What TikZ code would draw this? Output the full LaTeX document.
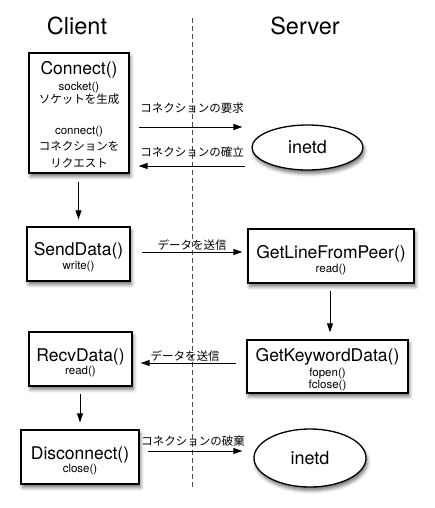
\documentclass[tikz,border=0pt]{standalone}
\usepackage{fontspec}
\setmainfont{TeX Gyre Heros}
\newfontfamily\jp{Noto Sans CJK JP}
\usetikzlibrary{shapes.geometric,arrows.meta,shadows.blur}
\begin{document}
\begin{tikzpicture}[x=1pt,y=-1pt,
  boxshadow/.style={blur shadow={shadow xshift=1.5pt,shadow yshift=-3.5pt,shadow blur radius=3.5pt,shadow opacity=55}},
  box/.style={draw,line width=1.3pt,fill=white,inner sep=0pt,boxshadow},
  oval/.style={ellipse,draw,line width=1.3pt,fill=white,inner sep=0pt,boxshadow},
  title/.style={anchor=base,inner sep=0pt,font=\fontsize{23.5}{26}\selectfont},
  big/.style={anchor=base,inner sep=0pt,font=\fontsize{17.5}{20}\selectfont},
  small/.style={anchor=base,inner sep=0pt,font=\fontsize{11.5}{13}\selectfont},
  jps/.style={anchor=base,inner sep=0pt,font=\jp\fontsize{11.5}{13}\selectfont},
  arr/.style={line width=1pt,-{Triangle[length=9pt,width=6pt]}},
  divider/.style={black!70,line width=1pt,dash pattern=on 5pt off 3pt}]
\useasboundingbox (0,0) rectangle (434,508);
% divider
\coordinate (dtop) at (192,18);
\coordinate (dbot) at (192,487);
\draw[divider] (dtop) -- (dbot);
% titles
\node[title] (client) at (77,35) {Client};
\node[title] (server) at (305,35) {Server};
% boxes
\node[box,minimum width=100pt,minimum height=120pt] (connect) at (79,113) {};
\node[box,minimum width=103pt,minimum height=54pt] (send) at (78.5,254) {};
\node[box,minimum width=166pt,minimum height=54pt] (glfp) at (331,256) {};
\node[box,minimum width=161pt,minimum height=53pt] (gkd) at (327.5,366.5) {};
\node[box,minimum width=103pt,minimum height=54pt] (recv) at (80.5,359) {};
\node[box,minimum width=118pt,minimum height=54pt] (disc) at (80,457) {};
\node[oval,minimum width=111pt,minimum height=45pt] (inetdA) at (307.5,147.5) {};
\node[oval,minimum width=112pt,minimum height=58pt] (inetdB) at (310,458) {};
% box texts
\node[big] (tconnect) at (79,75) {Connect()};
\node[small] (tsocket) at (79,91) {socket()};
\node[jps] (tsock) at (79,103) {ソケットを生成};
\node[small] (tconn) at (79,135) {connect()};
\node[jps] (tconreq) at (79,150) {コネクションを};
\node[jps] (treq) at (79,167) {リクエスト};
\node[big] (tsend) at (78.5,255) {SendData()};
\node[small] (twrite) at (78.5,269) {write()};
\node[big] (tglfp) at (331,258) {GetLineFromPeer()};
\node[small] (tread) at (331,272) {read()};
\node[big] (tgkd) at (327.5,361) {GetKeywordData()};
\node[small] (tfopen) at (327.5,376) {fopen()};
\node[small] (tfclose) at (327.5,388.5) {fclose()};
\node[big] (trecv) at (80.5,361) {RecvData()};
\node[small] (tread2) at (80.5,374) {read()};
\node[big] (tdisc) at (80,459) {Disconnect()};
\node[small] (tclose) at (80,472) {close()};
\node[big,font=\fontsize{18}{20}\selectfont] (tinetdA) at (307.5,153) {inetd};
\node[big,font=\fontsize{18}{20}\selectfont] (tinetdB) at (310,464) {inetd};
% arrow labels
\node[jps] (lreq) at (192,113) {コネクションの要求};
\node[jps] (lest) at (192,156) {コネクションの確立};
\node[jps] (lsend) at (192,249) {データを送信};
\node[jps] (lrecv) at (185,360) {データを送信};
\node[jps] (ldisc) at (193,445) {コネクションの破棄};
% arrows
\draw[arr] ([shift={(9,14)}]connect.east) -- ([shift={(-9,-20.5)}]inetdA.west);
\draw[arr] ([shift={(-6,18.5)}]inetdA.west) -- ([shift={(9,53)}]connect.east);
\draw[arr] ([shift={(-0.5,8)}]connect.south) -- ([shift={(0,-7)}]send.north);
\draw[arr] ([shift={(11,-2)}]send.east) -- ([shift={(-5,-4)}]glfp.west);
\draw[arr] ([shift={(-1,7)}]glfp.south) -- ([shift={(2.5,-7)}]gkd.north);
\draw[arr] ([shift={(-10,-3.5)}]gkd.west) -- ([shift={(8,4)}]recv.east);
\draw[arr] ([shift={(-0.5,7)}]recv.south) -- ([shift={(0,-7)}]disc.north);
\draw[arr] ([shift={(8,-6)}]disc.east) -- ([shift={(-11,-7)}]inetdB.west);
\end{tikzpicture}
\end{document}
